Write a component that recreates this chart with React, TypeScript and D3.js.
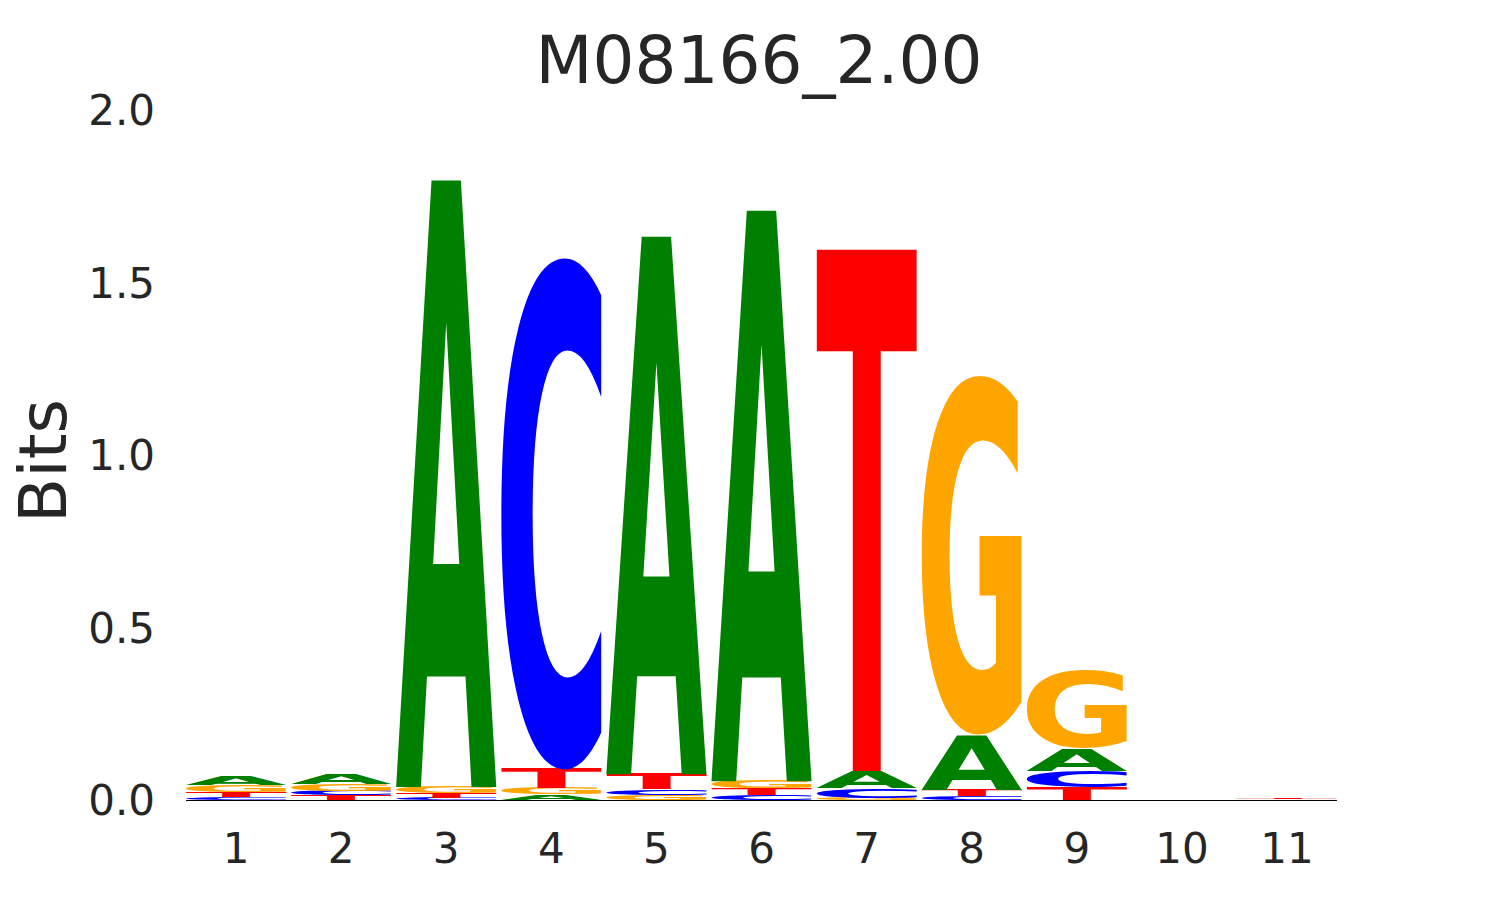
import React, { useEffect, useRef } from "react";
import * as d3 from "d3";

// sequence logo values (bits) per position
const positions = [1, 2, 3, 4, 5, 6, 7, 8, 9, 10, 11];
const bitsA = [0.026, 0.031, 1.76, 0.016, 1.56, 1.656, 0.05, 0.16, 0.065, 0.001, 0.0005];
const bitsC = [0.009, 0.014, 0.006, 1.48, 0.016, 0.014, 0.028, 0.011, 0.048, 0.001, 0.0005];
const bitsG = [0.019, 0.019, 0.018, 0.018, 0.015, 0.021, 0.006, 1.039, 0.228, 0.001, 0.0005];
const bitsT = [0.015, 0.013, 0.014, 0.055, 0.044, 0.019, 1.513, 0.019, 0.036, 0.0005, 0.002];
const yTicks = [0, 0.5, 1, 1.5, 2];
const yTickLabels = ["0.0", "0.5", "1.0", "1.5", "2.0"];
const title = "M08166_2.00";

const letterColors: Record<string, string> = {
  A: "#008000",
  C: "#0000ff",
  G: "#ffa500",
  T: "#ff0000",
};

const FONT = "'DejaVu Sans', 'Liberation Sans', sans-serif";
const TEXT_COLOR = "#262626";
const GLYPH_SIZE = 500;

// find the ink box of a glyph by drawing it on a canvas and scanning the pixels
function inkBox(letter: string) {
  const S = 1000;
  const ox = 250;
  const oy = 750;
  const canvas = document.createElement("canvas");
  canvas.width = S;
  canvas.height = S;
  const ctx = canvas.getContext("2d")!;
  ctx.font = `bold ${GLYPH_SIZE}px ${FONT}`;
  ctx.textBaseline = "alphabetic";
  ctx.fillStyle = "#000";
  ctx.fillText(letter, ox, oy);
  const px = ctx.getImageData(0, 0, S, S).data;
  let minX = S, maxX = -1, minY = S, maxY = -1;
  for (let yy = 0; yy < S; yy++) {
    for (let xx = 0; xx < S; xx++) {
      if (px[(yy * S + xx) * 4 + 3] > 127) {
        if (xx < minX) minX = xx;
        if (xx > maxX) maxX = xx;
        if (yy < minY) minY = yy;
        if (yy > maxY) maxY = yy;
      }
    }
  }
  if (maxX < 0) {
    const m = ctx.measureText(letter);
    return {
      l: m.actualBoundingBoxLeft,
      r: m.actualBoundingBoxRight,
      a: m.actualBoundingBoxAscent,
      d: m.actualBoundingBoxDescent,
    };
  }
  return { l: ox - minX, r: maxX + 1 - ox, a: oy - minY, d: maxY + 1 - oy };
}

export default function App() {
  const ref = useRef<SVGSVGElement | null>(null);

  useEffect(() => {
    if (!ref.current) return;
    const svg = d3.select(ref.current);
    svg.selectAll("*").remove();

    const x = d3.scaleLinear().domain([1, 11]).range([236, 1287]);
    const y = d3.scaleLinear().domain([0, 2]).range([800, 110]);
    const unit = x(2) - x(1);
    const letterW = unit * 0.95;

    const metrics: Record<string, { l: number; r: number; a: number; d: number }> = {};
    Object.keys(letterColors).forEach((k) => {
      metrics[k] = inkBox(k);
    });

    // stacks: smallest letter at the bottom
    const stacks: { pos: number; letter: string; y0: number; y1: number }[] = [];
    positions.forEach((p, i) => {
      const vals = [
        { letter: "A", v: bitsA[i] },
        { letter: "C", v: bitsC[i] },
        { letter: "G", v: bitsG[i] },
        { letter: "T", v: bitsT[i] },
      ].sort((a, b) => a.v - b.v);
      let acc = 0;
      vals.forEach((d) => {
        stacks.push({ pos: p, letter: d.letter, y0: acc, y1: acc + d.v });
        acc += d.v;
      });
    });

    // x axis line
    svg
      .append("line")
      .attr("x1", x(positions[0]) - letterW / 2)
      .attr("x2", x(positions[positions.length - 1]) + letterW / 2)
      .attr("y1", y(0) + 0.5)
      .attr("y2", y(0) + 0.5)
      .attr("stroke", "#000")
      .attr("stroke-width", 1.2);

    svg
      .append("g")
      .selectAll("text.glyph")
      .data(stacks)
      .join("text")
      .attr("class", "glyph")
      .attr("font-family", FONT)
      .attr("font-weight", "bold")
      .attr("font-size", GLYPH_SIZE)
      .attr("fill", (d) => letterColors[d.letter])
      .attr("transform", (d) => {
        const m = metrics[d.letter];
        const bx = x(d.pos) - letterW / 2;
        const by = y(d.y1);
        const bh = y(d.y0) - y(d.y1);
        const sx = letterW / (m.l + m.r);
        const sy = bh / (m.a + m.d);
        return `translate(${bx},${by}) scale(${sx},${sy}) translate(${m.l},${m.a})`;
      })
      .text((d) => d.letter);

    // y tick labels
    svg
      .append("g")
      .selectAll("text")
      .data(yTicks)
      .join("text")
      .attr("x", 155)
      .attr("y", (d) => y(d))
      .attr("dy", "0.36em")
      .attr("text-anchor", "end")
      .attr("font-family", FONT)
      .attr("font-size", 42)
      .attr("fill", TEXT_COLOR)
      .text((_d, i) => yTickLabels[i]);

    // x tick labels
    svg
      .append("g")
      .selectAll("text")
      .data(positions)
      .join("text")
      .attr("x", (d) => x(d))
      .attr("y", 863)
      .attr("text-anchor", "middle")
      .attr("font-family", FONT)
      .attr("font-size", 42)
      .attr("fill", TEXT_COLOR)
      .text((d) => String(d));

    // y label
    svg
      .append("text")
      .attr("transform", `translate(66,${y(1) + 6}) rotate(-90)`)
      .attr("text-anchor", "middle")
      .attr("font-family", FONT)
      .attr("font-size", 66)
      .attr("fill", TEXT_COLOR)
      .text("Bits");

    // title
    svg
      .append("text")
      .attr("x", 759)
      .attr("y", 83)
      .attr("text-anchor", "middle")
      .attr("font-family", FONT)
      .attr("font-size", 66)
      .attr("fill", TEXT_COLOR)
      .text(title);
  }, []);

  return (
    <svg
      ref={ref}
      width={1485}
      height={900}
      style={{ position: "absolute", left: 0, top: 0, background: "#fff" }}
    />
  );
}
